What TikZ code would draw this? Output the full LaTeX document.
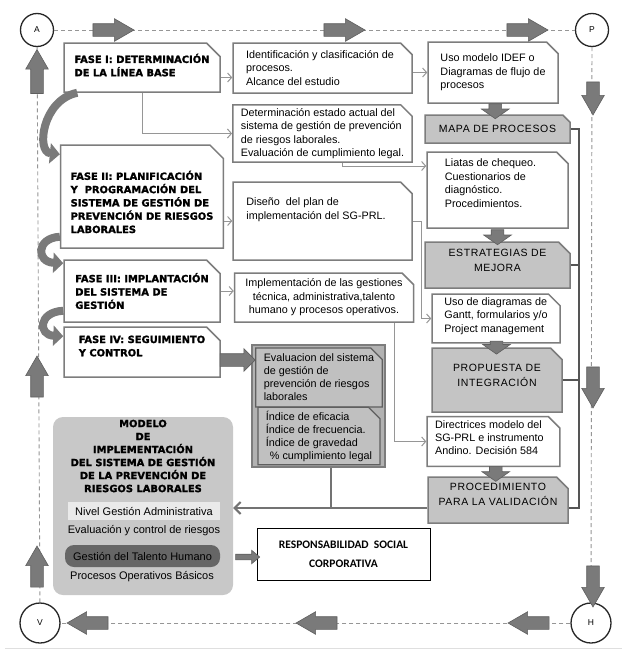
\documentclass[tikz,border=0pt]{standalone}
\usepackage{fontspec}
\setmainfont{Liberation Sans}
\newfontfamily\heavyfont[BoldFeatures={FakeBold=1.6}]{DejaVu Sans}
\newfontfamily\spacedfont[LetterSpace=6]{Liberation Sans}
\newfontfamily\rscfont{Carlito}
\usetikzlibrary{shapes.misc, shapes.arrows, arrows.meta, positioning, calc}

\definecolor{boxLine}{RGB}{125,125,125}
\definecolor{boxGray}{RGB}{196,196,196}
\definecolor{evalGray}{RGB}{178,178,178}
\definecolor{noteGray}{RGB}{192,192,192}
\definecolor{arrowFill}{RGB}{122,122,122}
\definecolor{arrowLine}{RGB}{95,95,95}
\definecolor{linkGray}{RGB}{150,150,150}
\definecolor{railGray}{RGB}{85,85,85}
\definecolor{feedGray}{RGB}{115,115,115}
\definecolor{frameGray}{RGB}{150,150,150}
\definecolor{modelGray}{RGB}{200,200,200}
\definecolor{bandLight}{RGB}{234,234,234}
\definecolor{bandDark}{RGB}{102,102,102}

\newcommand{\padlow}[1]{\rule[-#1]{0pt}{#1}}
\newcommand{\padtop}[1]{\rule{0pt}{#1}}
\newcommand{\tailpad}[1]{\hspace*{#1}}

\tikzstyle{phase} = [chamfered rectangle, chamfered rectangle corners=north east, chamfered rectangle xsep=10pt, draw=boxLine, line width=1.5pt, fill=white, align=left, inner sep=0pt, font=\heavyfont\bfseries\fontsize{9.9}{13.3}\selectfont]
\tikzstyle{task} = [chamfered rectangle, chamfered rectangle corners=north east, chamfered rectangle xsep=8pt, draw=boxLine, line width=1.5pt, fill=white, align=left, inner sep=0pt, font=\fontsize{10.8}{13.4}\selectfont]
\tikzstyle{result} = [task, fill=boxGray, align=center, font=\spacedfont\fontsize{10.5}{15}\selectfont]
\tikzstyle{note} = [task, fill=noteGray, draw=arrowLine, line width=1.2pt, font=\fontsize{10.8}{13}\selectfont]
\tikzstyle{evalbox} = [rectangle, draw=boxLine, line width=1.2pt, fill=evalGray]
\tikzstyle{modelbox} = [rectangle, rounded corners=10pt, fill=modelGray, draw=none]
\tikzstyle{modeltitle} = [align=center, inner sep=0pt, font=\heavyfont\bfseries\fontsize{9.9}{13}\selectfont]
\tikzstyle{item} = [rectangle, inner sep=0pt, font=\fontsize{11}{13}\selectfont]
\tikzstyle{rsc} = [rectangle, draw=black, line width=1pt, fill=white, align=center, font=\rscfont\bfseries\fontsize{11.5}{19}\selectfont]
\tikzstyle{stage} = [circle, draw=black!85, line width=1.3pt, fill=white, inner sep=0pt, font=\fontsize{8.5}{10}\selectfont]
\tikzstyle{frame} = [draw=frameGray, line width=0.9pt, dash pattern=on 4pt off 3pt]
\tikzstyle{blockarrow} = [single arrow, draw=arrowLine, line width=0.6pt, fill=arrowFill, inner xsep=0pt, inner ysep=6pt, minimum width=0pt, single arrow head extend=5pt, single arrow tip angle=60, minimum height=41pt]
\tikzstyle{link} = [draw=linkGray, line width=1pt, -{Straight Barb[length=4pt,width=9pt]}]
\tikzstyle{rail} = [draw=railGray, line width=2.5pt]
\tikzstyle{feed} = [draw=feedGray, line width=2pt]
\tikzstyle{swoop} = [draw=arrowFill, line width=8pt, -{Triangle[width=20pt,length=10pt]}]

\begin{document}
\begin{tikzpicture}[x=1pt, y=-1pt]
\useasboundingbox (0,0) rectangle (629,656);
\fill[white] (0,0) rectangle (629,656);

% cycle frame
\node[stage, minimum size=33pt] (A) at (37,30) {A};
\node[stage, minimum size=33pt] (P) at (592,30) {P};
\node[stage, minimum size=40pt] (H) at (591,623) {H};
\node[stage, minimum size=40pt] (V) at (40,623) {V};
\draw[frame] (A) -- (P);
\draw[frame] (P) -- (H);
\draw[frame] (H) -- (V);
\draw[frame] (V) -- (A);
\draw[gray!25, line width=1pt] (5,648) -- (622,648);

\node[blockarrow] (top1) at (108,30) {};
\node[blockarrow] (top2) at (339,30) {};
\node[blockarrow] (top3) at (522,30) {};
\node[blockarrow, rotate=-90, minimum height=33pt] (right1) at (593,93) {};
\node[blockarrow, rotate=-90] (right2) at (593,382) {};
\node[blockarrow, rotate=-90] (right3) at (593,581) {};
\node[blockarrow, rotate=180] (bottom1) at (534,623) {};
\node[blockarrow, rotate=180] (bottom2) at (322,623) {};
\node[blockarrow, rotate=180] (bottom3) at (93,623) {};
\node[blockarrow, rotate=90] (left1) at (37,572) {};
\node[blockarrow, rotate=90] (left2) at (37,382) {};
\node[blockarrow, rotate=90, minimum height=44pt] (left3) at (37,77) {};

% phases
\node[phase, minimum width=156pt, minimum height=49pt] (fase1) at (142,67.5) {FASE I: DETERMINACIÓN\\ DE LA LÍNEA BASE\padlow{5pt}};
\node[phase, minimum width=156pt, minimum height=103pt] (fase2) at (142,196.5) {\padtop{20pt}FASE II: PLANIFICACIÓN\\Y~ PROGRAMACIÓN DEL\\SISTEMA DE GESTIÓN DE\\PREVENCIÓN DE RIESGOS\\LABORALES};
\node[phase, minimum width=156pt, minimum height=62pt] (fase3) at (142,291) {FASE III: IMPLANTACIÓN\\DEL SISTEMA DE\\GESTIÓN};
\node[phase, minimum width=156pt, minimum height=50pt] (fase4) at (142,352) {FASE IV: SEGUIMIENTO\\Y CONTROL\padlow{12pt}};

% middle column
\node[task, minimum width=179pt, minimum height=50pt] (ident) at (322.5,68) {Identificación y clasificación de\tailpad{5pt}\\procesos.\\Alcance del estudio};
\node[task, minimum width=179pt, minimum height=53pt] (estado) at (322.5,133.5) {Determinación estado actual del\\sistema de gestión de prevención\\de riesgos laborales.\\ Evaluación de cumplimiento legal.};
\node[task, minimum width=179pt, minimum height=78pt] (diseno) at (322.5,221) {Diseño~ del plan de\\implementación del SG-PRL.\tailpad{13pt}\padlow{25pt}};
\node[task, align=center, minimum width=179pt, minimum height=49pt] (implem) at (324,297.5) {Implementación de las gestiones\\técnica, administrativa,talento\\humano y procesos operativos.};

% evaluation block
\node[evalbox, minimum width=133pt, minimum height=122pt] (eval) at (318.5,406) {};
\node[note, minimum width=122pt, minimum height=59pt] (evalA) at (319,377.5) {Evaluacion del sistema\\de gestión de\\prevención de riesgos\\laborales};
\node[note, minimum width=122pt, minimum height=52pt] (evalB) at (319,436) {Índice de eficacia\\Índice de frecuencia.\tailpad{14pt}\\Índice de gravedad\\\hspace*{4pt}\% cumplimiento legal};

% right column
\node[task, minimum width=130pt, minimum height=61pt] (idef) at (493,72.5) {Uso modelo IDEF o\\Diagramas de flujo de\\procesos};
\node[result, minimum width=145pt, minimum height=28pt] (mapa) at (497.5,129) {MAPA DE PROCESOS};
\node[task, minimum width=141pt, minimum height=76pt] (listas) at (497.5,190) {Liatas de chequeo.\tailpad{14pt}\\Cuestionarios de\\diagnóstico.\\Procedimientos.\padlow{14pt}};
\node[result, minimum width=145pt, minimum height=46pt] (estrat) at (497.5,265) {ESTRATEGIAS DE\\MEJORA\padlow{9pt}};
\node[task, minimum width=128pt, minimum height=47pt] (gantt) at (496,318.5) {Uso de diagramas de\\Gantt, formularios y/o\\Project management\padlow{7pt}};
\node[result, minimum width=130pt, minimum height=64pt] (propu) at (497,380) {PROPUESTA DE\\INTEGRACIÓN\padlow{10pt}};
\node[task, minimum width=123pt, minimum height=47pt] (direc) at (493.5,441.5) {Directrices modelo del\tailpad{10pt}\\SG-PRL e instrumento\\Andino. Decisión 584\padlow{8pt}};
\node[result, minimum width=140pt, minimum height=46pt] (valid) at (498,500) {PROCEDIMIENTO\\PARA LA VALIDACIÓN\padlow{11pt}};

% model
\node[modelbox, minimum width=180pt, minimum height=178pt] (modelo) at (143,506) {};
\node[modeltitle] (titulo) at (143,456) {MODELO\\DE\\IMPLEMENTACIÓN\\DEL SISTEMA DE GESTIÓN\\DE LA PREVENCIÓN DE\\RIESGOS LABORALES};
\node[item, fill=bandLight, minimum width=152pt, minimum height=18pt] (nivel) at (144,511) {Nivel Gestión Administrativa};
\node[item] (evalr) at (144,531) {Evaluación y control de riesgos};
\node[item, fill=bandDark, rounded corners=9pt, minimum width=155pt, minimum height=22pt] (talento) at (142.5,556) {Gestión del Talento Humano};
\node[item] (procesos) at (142,577) {Procesos Operativos Básicos};
\node[rsc, minimum width=173pt, minimum height=52pt] (rsc) at (343.5,554) {RESPONSABILIDAD~ SOCIAL\\CORPORATIVA};

% thin connectors
\coordinate (f1out) at ([yshift=-10pt]fase1.east);
\draw[link] (f1out) -- (f1out -| ident.west);
\draw[link] (fase1.south) |- (estado.west);
\draw[link] (ident.east |- idef.west) -- (idef.west);
\draw[link] ([xshift=20pt]estado.south) |- ([yshift=24pt]listas.west);
\draw[link] (fase2.east |- diseno.west) -- (diseno.west);
\draw[link] (diseno.east) -- ++(9,0) |- (gantt.west);
\draw[link] (fase3.east) -- (fase3.east -| implem.west);
\draw[link] ([xshift=70pt]implem.south) |- (direc.west);

% collector and feedback
\coordinate (rail) at ([xshift=8pt]mapa.east);
\draw[rail] (mapa.east) -- (rail) |- ([yshift=-8pt]valid.east);
\draw[rail] (estrat.east) -- (estrat.east -| rail);
\draw[rail] (propu.east) -- (propu.east -| rail);
\coordinate (back) at ([yshift=-8pt]valid.west);
\coordinate (evdrop) at ([xshift=12pt]eval.south);
\draw[feed] (evdrop) -- (evdrop |- back);
\draw[feed, -{Straight Barb[length=6pt,width=12pt]}] (back) -- (back -| modelo.east);

% block arrows between boxes
\node[blockarrow, rotate=-90, minimum height=15pt, single arrow head extend=7.5pt, single arrow tip angle=110] (m1) at ($(idef.south)!.5!(mapa.north)$) {};
\node[blockarrow, rotate=-90, minimum height=15pt, single arrow head extend=7.5pt, single arrow tip angle=110] (m2) at ($(listas.south)!.5!(estrat.north)$) {};
\node[blockarrow, rotate=-90, minimum height=13pt, single arrow head extend=7.5pt, single arrow tip angle=110] (m3) at ($(gantt.south)!.5!(propu.north)$) {};
\node[blockarrow, rotate=-90, minimum height=15pt, single arrow head extend=7.5pt, single arrow tip angle=110] (m4) at ($(direc.south)!.5!(valid.north)$) {};
\node[blockarrow, minimum height=35pt, single arrow head extend=5pt, single arrow tip angle=90] (f4arrow) at (234.5,360) {};
\node[blockarrow, inner ysep=2.5pt, minimum height=24pt, single arrow head extend=4pt, single arrow tip angle=80] (torsc) at (246,557) {};

% curved phase arrows
\draw[swoop] ([xshift=14pt]fase1.south west) .. controls (42,100) and (36,152) .. ([yshift=-10pt]fase2.north west);
\draw[swoop] ([yshift=12pt]fase2.south west) .. controls (36,238) and (36,262) .. ([yshift=-4pt]fase3.north west);
\draw[swoop] ([yshift=12pt]fase3.south west) .. controls (38,312) and (38,335) .. ([yshift=-10pt]fase4.north west);
\end{tikzpicture}
\end{document}
